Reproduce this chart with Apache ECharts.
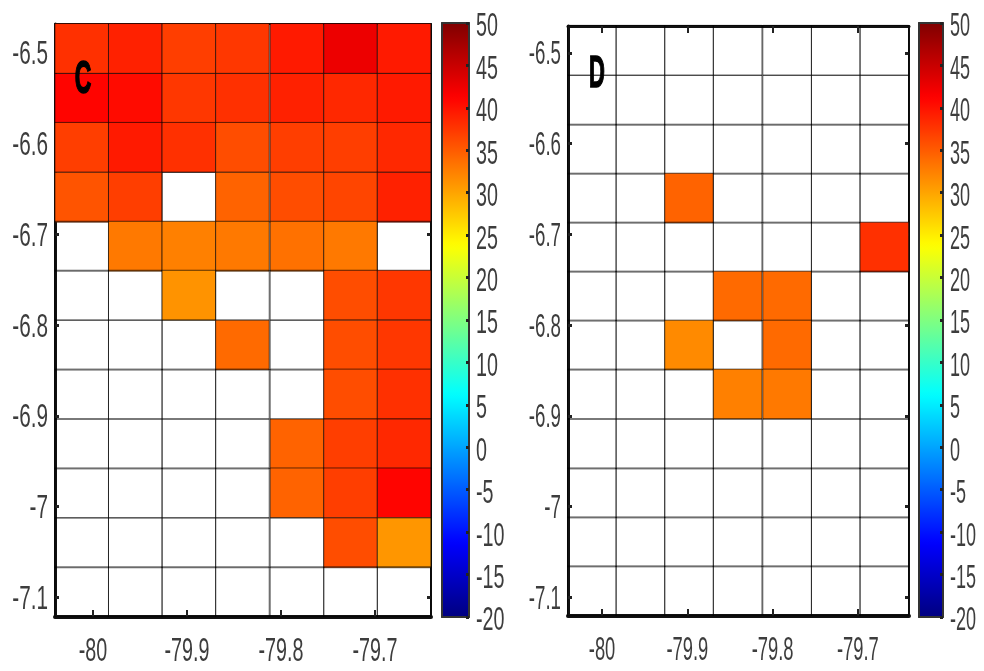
<!DOCTYPE html>
<html>
<head>
<meta charset="utf-8">
<style>html,body{margin:0;padding:0;background:#fff}#c{width:984px;height:671px}</style>
<script src="https://cdn.jsdelivr.net/npm/echarts@6/dist/echarts.min.js"></script>
</head>
<body>
<div id="c"></div>
<script>
// Cell centres (longitude shared, latitude read per panel)
const lonCenters = [-80.012, -79.955, -79.898, -79.841, -79.783, -79.726, -79.669];
const latCentersC = [-6.495, -6.550, -6.604, -6.659, -6.713, -6.767, -6.822, -6.876, -6.931, -6.985, -7.040, -7.094];
const latCentersD = [-6.497, -6.552, -6.606, -6.660, -6.714, -6.768, -6.822, -6.876, -6.931, -6.985, -7.039, -7.093];

// Panel C values, top row first
const panelC = [
  [38.0, 39.0, 37.0, 37.5, 39.5, 42.5, 39.5],
  [41.0, 40.5, 37.5, 38.0, 39.0, 38.5, 39.5],
  [37.0, 39.5, 38.0, 36.0, 37.0, 37.0, 38.5],
  [35.5, 37.0, null, 34.5, 36.0, 36.5, 39.0],
  [null, 33.0, 32.5, 33.0, 33.5, 33.0, null],
  [null, null, 31.2, null, null, 36.0, 37.5],
  [null, null, null, 34.0, null, 36.0, 37.5],
  [null, null, null, null, null, 36.0, 38.0],
  [null, null, null, null, 34.5, 37.0, 38.5],
  [null, null, null, null, 34.5, 37.0, 41.0],
  [null, null, null, null, null, 36.0, 31.0],
  [null, null, null, null, null, null, null]
];
// Panel D values, top row first
const panelD = [
  [null, null, null, null, null, null, null],
  [null, null, null, null, null, null, null],
  [null, null, null, null, null, null, null],
  [null, null, 34.5, null, null, null, null],
  [null, null, null, null, null, null, 38.0],
  [null, null, null, 34.0, 34.0, null, null],
  [null, null, 31.8, null, 34.0, null, null],
  [null, null, null, 32.5, 33.0, null, null],
  [null, null, null, null, null, null, null],
  [null, null, null, null, null, null, null],
  [null, null, null, null, null, null, null],
  [null, null, null, null, null, null, null]
];

const xTicks = [-80, -79.9, -79.8, -79.7];
const yTicks = [-6.5, -6.6, -6.7, -6.8, -6.9, -7, -7.1];
const barTicks = [50, 45, 40, 35, 30, 25, 20, 15, 10, 5, 0, -5, -10, -15, -20];
const jet = ['#000080','#0000ff','#0080ff','#00ffff','#80ff80','#ffff00','#ff8000','#ff0000','#800000'];
const scaleMin = -20, scaleMax = 50, scaleStep = 5;

const LABEL_FONT = '34px "Liberation Sans",sans-serif';
const TEXT = '#3d3d3d';

const panels = [
  {data: panelC, lats: latCentersC,
   grid: {left: 55, top: 24, width: 376, height: 593}, xr: [-80.0404, -79.6404], yr: [-7.1218, -6.468],
   bar: {left: 442, top: 23, width: 27, height: 594}, topW: 2, sx: 0.58, sy: 0.61, sb: 0.58},
  {data: panelD, lats: latCentersD,
   grid: {left: 568, top: 26, width: 341, height: 590}, xr: [-80.0399, -79.6401], yr: [-7.1207, -6.4702],
   bar: {left: 919, top: 23, width: 24, height: 594}, topW: 3, sx: 0.54, sy: 0.55, sb: 0.53}
];

const option = {
  backgroundColor: '#fff', animation: false,
  grid: [], xAxis: [], yAxis: [], series: [], visualMap: [], graphic: []
};

function tickAxis(kind, gridIndex, range, ticks, pos, lineW) {
  return {
    type: 'value', gridIndex, position: pos, min: range[0], max: range[1], scale: true,
    splitLine: {show: false},
    axisLine: {show: true, onZero: false, lineStyle: {color: '#111', width: lineW}},
    axisTick: {show: true, inside: true, customValues: ticks,
      length: kind === 'x' ? 7 : 4, lineStyle: {color: '#222', width: kind === 'x' ? 2 : 3}},
    axisLabel: {show: false}
  };
}

// Condensed tick labels: real text placed through the axis scale
function labelSeries(xi, yi, points, text, dx, dy, scaleX, align) {
  return {
    type: 'custom', coordinateSystem: 'cartesian2d', xAxisIndex: xi, yAxisIndex: yi,
    encode: {x: 0, y: 1}, clip: false, silent: true, z: 12,
    renderItem(params, api) {
      const c = api.coord([api.value(0), api.value(1)]);
      return {
        type: 'text', x: c[0] + dx, y: c[1] + dy, scaleX,
        style: {text: text[params.dataIndex], font: LABEL_FONT, fill: TEXT, align, verticalAlign: 'middle'}
      };
    },
    data: points
  };
}

panels.forEach((p) => {
  const gi = option.grid.length;
  option.grid.push(p.grid);
  const xi = option.xAxis.length, yi = option.yAxis.length;
  option.xAxis.push(tickAxis('x', gi, p.xr, xTicks, 'bottom', 4));
  option.xAxis.push(tickAxis('x', gi, p.xr, xTicks, 'top', p.topW));
  option.yAxis.push(tickAxis('y', gi, p.yr, yTicks, 'left', 3));
  option.yAxis.push(tickAxis('y', gi, p.yr, yTicks, 'right', 2));

  const rows = [];
  p.data.forEach((row, r) => row.forEach((v, c) => rows.push([lonCenters[c], p.lats[r], v === null ? NaN : v])));
  const dx = lonCenters[1] - lonCenters[0];
  const dy = p.lats[0] - p.lats[1];
  const si = option.series.length;
  option.series.push({
    type: 'custom', coordinateSystem: 'cartesian2d', xAxisIndex: xi, yAxisIndex: yi,
    encode: {x: 0, y: 1}, dimensions: ['lon', 'lat', 'value'], clip: false, silent: true,
    renderItem(params, api) {
      const lon = api.value(0), lat = api.value(1), v = api.value(2);
      const a = api.coord([lon - dx / 2, lat + dy / 2]);
      const b = api.coord([lon + dx / 2, lat - dy / 2]);
      const has = typeof v === 'number' && !isNaN(v);
      return {
        type: 'rect',
        shape: {x: a[0], y: a[1], width: b[0] - a[0], height: b[1] - a[1]},
        style: {fill: has ? api.visual('color') : 'rgba(0,0,0,0)', stroke: 'rgba(0,0,0,0.62)', lineWidth: 1}
      };
    },
    data: rows
  });
  option.series.push(labelSeries(xi, yi, xTicks.map(v => [v, p.yr[0]]), xTicks.map(String), 0, 35, p.sx, 'center'));
  option.series.push(labelSeries(xi, yi, yTicks.map(v => [p.xr[0], v]), yTicks.map(String), -7, 2, p.sy, 'right'));

  option.visualMap.push({
    type: 'continuous', seriesIndex: si, dimension: 2, min: scaleMin, max: scaleMax,
    left: p.bar.left, top: p.bar.top, itemWidth: p.bar.width, itemHeight: p.bar.height,
    padding: 0, calculable: false, realtime: false, hoverLink: false, text: null,
    inRange: {color: jet}
  });

  // colour bar frame, ticks and labels
  const bg = option.grid.length;
  option.grid.push(p.bar);
  const frame = {color: '#333', width: 2};
  const bxi = option.xAxis.length, byi = option.yAxis.length;
  option.xAxis.push(
    {type: 'value', gridIndex: bg, min: 0, max: 1, position: 'bottom', z: 10, splitLine: {show: false},
     axisLine: {show: true, onZero: false, lineStyle: frame}, axisTick: {show: false}, axisLabel: {show: false}},
    {type: 'value', gridIndex: bg, min: 0, max: 1, position: 'top', z: 10, splitLine: {show: false},
     axisLine: {show: true, onZero: false, lineStyle: frame}, axisTick: {show: false}, axisLabel: {show: false}}
  );
  option.yAxis.push(
    {type: 'value', gridIndex: bg, min: scaleMin, max: scaleMax, interval: scaleStep, position: 'right', z: 10,
     splitLine: {show: false}, axisLine: {show: true, onZero: false, lineStyle: frame},
     axisTick: {show: true, inside: true, length: 3, lineStyle: {color: '#222', width: 3}},
     axisLabel: {show: false}},
    {type: 'value', gridIndex: bg, min: scaleMin, max: scaleMax, interval: scaleStep, position: 'left', z: 10,
     splitLine: {show: false}, axisLine: {show: true, onZero: false, lineStyle: frame},
     axisTick: {show: false}, axisLabel: {show: false}}
  );
  option.series.push(labelSeries(bxi, byi, barTicks.map(v => [1, v]), barTicks.map(String), 7, 4, p.sb, 'left'));
});

option.graphic = [
  {type: 'text', x: 83, y: 80, scaleX: 0.5, z: 20,
   style: {text: 'C', font: 'bold 46px "Liberation Sans"', fill: '#000', stroke: '#000', lineWidth: 1.5, align: 'center', verticalAlign: 'middle'}},
  {type: 'text', x: 597, y: 75, scaleX: 0.5, z: 20,
   style: {text: 'D', font: 'bold 44px "Liberation Sans"', fill: '#000', stroke: '#000', lineWidth: 1.5, align: 'center', verticalAlign: 'middle'}}
];

echarts.init(document.getElementById('c'), null, {renderer: 'canvas'}).setOption(option);
</script>
</body>
</html>
